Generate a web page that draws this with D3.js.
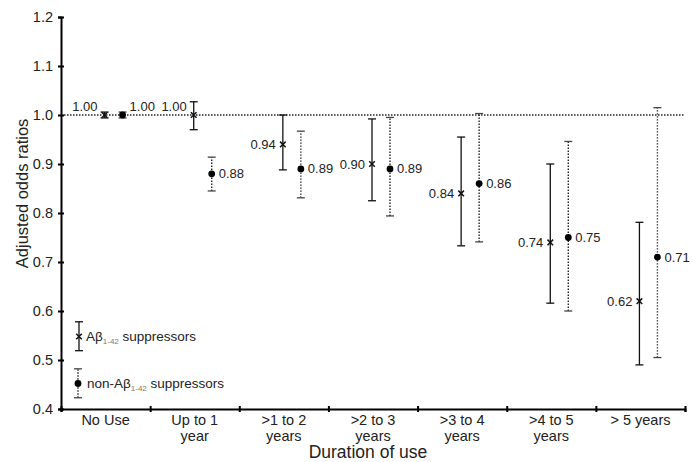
<!DOCTYPE html>
<html>
<head>
<meta charset="utf-8">
<script src="https://cdn.jsdelivr.net/npm/d3@7"></script>
<style>
  body { margin: 0; background: #fff; }
  text { font-family: "Liberation Sans", Arial, sans-serif; fill: #222; }
</style>
</head>
<body>
<div id="chart"></div>
<script>
// data
var categories = ["No Use", "Up to 1 year", ">1 to 2 years", ">2 to 3 years", ">3 to 4 years", ">4 to 5 years", "> 5 years"];
var catLines = [["No Use"], ["Up to 1", "year"], [">1 to 2", "years"], [">2 to 3", "years"], [">3 to 4", "years"], [">4 to 5", "years"], ["> 5 years"]];
var abOR  = [1.00, 1.00, 0.94, 0.90, 0.84, 0.74, 0.62];
var abLo  = [0.994, 0.970, 0.888, 0.825, 0.733, 0.616, 0.490];
var abHi  = [1.006, 1.027, 1.000, 0.992, 0.955, 0.900, 0.781];
var nonOR = [1.00, 0.88, 0.89, 0.89, 0.86, 0.75, 0.71];
var nonLo = [0.994, 0.845, 0.831, 0.794, 0.741, 0.600, 0.505];
var nonHi = [1.006, 0.914, 0.967, 0.995, 1.003, 0.946, 1.015];
var yTicks = [0.4, 0.5, 0.6, 0.7, 0.8, 0.9, 1.0, 1.1, 1.2];
// legend sample bars (drawn in data units)
var legendOR = [0.548, 0.452];
var legendLo = [0.519, 0.423];
var legendHi = [0.578, 0.482];

var margin = {top: 17, right: 7, bottom: 53, left: 61},
    width = 692 - margin.left - margin.right,
    height = 462 - margin.top - margin.bottom;

var svg = d3.select("#chart")
  .append("svg")
    .attr("width", width + margin.left + margin.right)
    .attr("height", height + margin.top + margin.bottom)
  .append("g")
    .attr("transform", `translate(${margin.left}, ${margin.top})`);

var x = d3.scaleBand()
  .domain(categories)
  .range([0, width]);

var xEdge = d3.scaleLinear()
  .domain([0, categories.length])
  .range([0, width]);

var y = d3.scaleLinear()
  .domain([0.4, 1.2])
  .range([height, 0]);

var rows = categories.map((c, i) => ({
  cat: c, ab: abOR[i], abLo: abLo[i], abHi: abHi[i],
  non: nonOR[i], nonLo: nonLo[i], nonHi: nonHi[i]
}));

var xAb = d => x(d.cat) + x.bandwidth() / 2 - 1;
var xNon = d => x(d.cat) + x.bandwidth() / 2 + 17;

// reference line at 1.0
svg.append("line")
  .attr("x1", 0).attr("x2", width)
  .attr("y1", y(1)).attr("y2", y(1))
  .attr("stroke", "#222")
  .attr("stroke-width", 1.5)
  .attr("stroke-dasharray", "1.5,1.5");

// Y axis
var yAxis = svg.append("g")
  .call(d3.axisLeft(y).tickValues(yTicks).tickFormat(d3.format(".1f")).tickSize(3));
yAxis.select(".domain").attr("stroke", "#000").attr("stroke-width", 2);
yAxis.selectAll(".tick line").attr("x1", -3).attr("x2", 3).attr("stroke", "#000").attr("stroke-width", 2);
yAxis.selectAll(".tick text")
  .attr("x", -8)
  .style("font-size", "14.5px")
  .style("font-family", "'Liberation Sans', Arial, sans-serif")
  .attr("fill", "#555");

// X axis: ticks at category edges
var xAxis = svg.append("g")
  .attr("transform", `translate(0, ${height})`)
  .call(d3.axisBottom(xEdge).ticks(categories.length).tickFormat("").tickSize(3));
xAxis.select(".domain").attr("stroke", "#000").attr("stroke-width", 2);
xAxis.selectAll(".tick line").attr("y1", -3).attr("y2", 3).attr("stroke", "#000").attr("stroke-width", 2);

// X category labels
var xLab = svg.append("g")
  .attr("transform", `translate(0, ${height})`)
  .call(d3.axisBottom(x).tickSize(0).tickFormat(""));
xLab.select(".domain").remove();
xLab.selectAll(".tick").each(function(d, i) {
  var t = d3.select(this).append("text")
    .attr("text-anchor", "middle")
    .style("font-size", "14.5px")
    .attr("fill", "#333");
  catLines[i].forEach((ln, j) => {
    t.append("tspan").attr("x", 0).attr("y", 16 + j * 15.5).text(ln);
  });
});

// axis titles
svg.append("text")
  .attr("x", width / 2 - 5)
  .attr("y", height + 49)
  .attr("text-anchor", "middle")
  .style("font-size", "17.5px")
  .attr("fill", "#333")
  .text("Duration of use");

svg.append("text")
  .attr("transform", `translate(${-33}, ${y(0.84)}) rotate(-90)`)
  .attr("text-anchor", "middle")
  .style("font-size", "16.5px")
  .attr("fill", "#333")
  .text("Adjusted odds ratios");

// A-beta suppressors: solid bars, x markers
var ab = svg.append("g");
ab.selectAll("line.bar")
  .data(rows)
  .join("line")
    .attr("class", "bar")
    .attr("x1", xAb).attr("x2", xAb)
    .attr("y1", d => y(d.abLo)).attr("y2", d => y(d.abHi))
    .attr("stroke", "#111").attr("stroke-width", 1.3);
["abLo", "abHi"].forEach(k => {
  ab.selectAll("line." + k)
    .data(rows)
    .join("line")
      .attr("class", k)
      .attr("x1", d => xAb(d) - 4).attr("x2", d => xAb(d) + 4)
      .attr("y1", d => y(d[k])).attr("y2", d => y(d[k]))
      .attr("stroke", "#111").attr("stroke-width", 1.3);
});
ab.selectAll("path.mark")
  .data(rows)
  .join("path")
    .attr("class", "mark")
    .attr("d", d => {
      var cx = xAb(d), cy = y(d.ab), s = 2.8;
      return `M${cx - s},${cy - s}L${cx + s},${cy + s}M${cx - s},${cy + s}L${cx + s},${cy - s}`;
    })
    .attr("stroke", "#111").attr("stroke-width", 1.5);
ab.selectAll("text")
  .data(rows)
  .join("text")
    .attr("x", d => xAb(d) - 7)
    .attr("y", d => y(d.ab) - (d.ab >= 1 ? 9 : 0))
    .attr("dy", "0.35em")
    .attr("text-anchor", "end")
    .style("font-size", "13px")
    .attr("fill", "#333")
    .text(d => d.ab.toFixed(2));

// non A-beta suppressors: dotted bars, filled circles
var non = svg.append("g");
non.selectAll("line.bar")
  .data(rows)
  .join("line")
    .attr("class", "bar")
    .attr("x1", xNon).attr("x2", xNon)
    .attr("y1", d => y(d.nonLo)).attr("y2", d => y(d.nonHi))
    .attr("stroke", "#222").attr("stroke-width", 1.4)
    .attr("stroke-dasharray", "1.4,1.6");
["nonLo", "nonHi"].forEach(k => {
  non.selectAll("line." + k)
    .data(rows)
    .join("line")
      .attr("class", k)
      .attr("x1", d => xNon(d) - 4).attr("x2", d => xNon(d) + 4)
      .attr("y1", d => y(d[k])).attr("y2", d => y(d[k]))
      .attr("stroke", "#444").attr("stroke-width", 1.3);
});
non.selectAll("circle")
  .data(rows)
  .join("circle")
    .attr("cx", xNon)
    .attr("cy", d => y(d.non))
    .attr("r", 3.4)
    .attr("fill", "#000");
non.selectAll("text")
  .data(rows)
  .join("text")
    .attr("x", d => xNon(d) + 7)
    .attr("y", d => y(d.non) - (d.non >= 1 ? 9 : 0))
    .attr("dy", "0.35em")
    .style("font-size", "13px")
    .attr("fill", "#333")
    .text(d => d.non.toFixed(2));

// legend
var lx = 18;
var leg = svg.append("g");
// A-beta sample
leg.append("line")
  .attr("x1", lx).attr("x2", lx)
  .attr("y1", y(legendLo[0])).attr("y2", y(legendHi[0]))
  .attr("stroke", "#111").attr("stroke-width", 1.3);
[legendLo[0], legendHi[0]].forEach(v => {
  leg.append("line")
    .attr("x1", lx - 4).attr("x2", lx + 4)
    .attr("y1", y(v)).attr("y2", y(v))
    .attr("stroke", "#111").attr("stroke-width", 1.3);
});
leg.append("path")
  .attr("d", `M${lx - 2.8},${y(legendOR[0]) - 2.8}L${lx + 2.8},${y(legendOR[0]) + 2.8}M${lx - 2.8},${y(legendOR[0]) + 2.8}L${lx + 2.8},${y(legendOR[0]) - 2.8}`)
  .attr("stroke", "#111").attr("stroke-width", 1.5);
// non A-beta sample
leg.append("line")
  .attr("x1", lx - 1).attr("x2", lx - 1)
  .attr("y1", y(legendLo[1])).attr("y2", y(legendHi[1]))
  .attr("stroke", "#222").attr("stroke-width", 1.4)
  .attr("stroke-dasharray", "1.4,1.6");
[legendLo[1], legendHi[1]].forEach(v => {
  leg.append("line")
    .attr("x1", lx - 5).attr("x2", lx + 3)
    .attr("y1", y(v)).attr("y2", y(v))
    .attr("stroke", "#444").attr("stroke-width", 1.3);
});
leg.append("circle")
  .attr("cx", lx - 1).attr("cy", y(legendOR[1]))
  .attr("r", 3.4).attr("fill", "#000");

var legendNames = [["Aβ", "1-42", " suppressors"], ["non-Aβ", "1-42", " suppressors"]];
legendNames.forEach((nm, i) => {
  var t = leg.append("text")
    .attr("x", lx + 7 + i)
    .attr("y", y(legendOR[i]))
    .attr("dy", "0.35em")
    .style("font-size", "13.5px")
    .attr("fill", "#333");
  t.append("tspan").text(nm[0]);
  t.append("tspan").attr("dy", 3).style("font-size", "8px").attr("fill", "#777").text(nm[1]);
  t.append("tspan").attr("dy", -3).text(nm[2]);
});
</script>
</body>
</html>
